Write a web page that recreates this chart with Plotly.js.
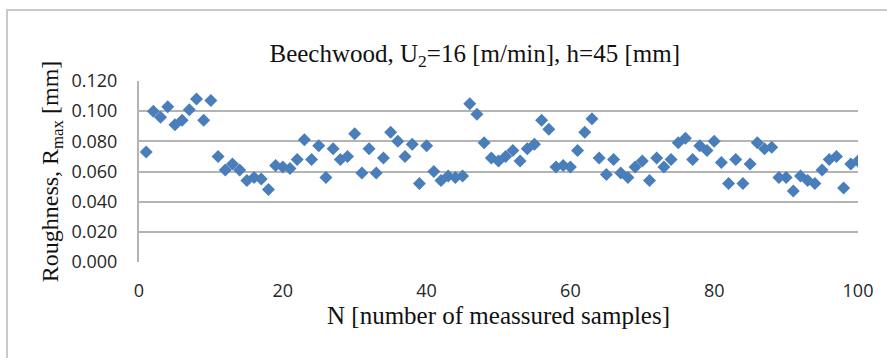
<!DOCTYPE html>
<html>
<head>
<meta charset="utf-8">
<script src="https://cdn.plot.ly/plotly-3.0.1.min.js"></script>
<style>
  html, body { margin: 0; padding: 0; background: #fff; }
  #wrap { position: relative; width: 887px; height: 358px; overflow: hidden; }
  #chart { width: 887px; height: 358px; }
  #frame { position: absolute; left: 6px; top: 9px; width: 1000px; height: 1000px;
           border-top: 2px solid #c9c9c9; border-left: 2px solid #c9c9c9; pointer-events: none; }
</style>
</head>
<body>
<div id="wrap">
  <div id="chart"></div>
  <div id="frame"></div>
</div>
<script>
const chartTitle = 'Beechwood, U<sub>2</sub>=16 [m/min], h=45 [mm]';
const xTitle = 'N [number of meassured samples]';
const yTitle = 'Roughness, R<sub>max</sub> [mm]';

const sampleN = [
  1, 2, 3, 4, 5, 6, 7, 8, 9, 10,
  11, 12, 13, 14, 15, 16, 17, 18, 19, 20,
  21, 22, 23, 24, 25, 26, 27, 28, 29, 30,
  31, 32, 33, 34, 35, 36, 37, 38, 39, 40,
  41, 42, 43, 44, 45, 46, 47, 48, 49, 50,
  51, 52, 53, 54, 55, 56, 57, 58, 59, 60,
  61, 62, 63, 64, 65, 66, 67, 68, 69, 70,
  71, 72, 73, 74, 75, 76, 77, 78, 79, 80,
  81, 82, 83, 84, 85, 86, 87, 88, 89, 90,
  91, 92, 93, 94, 95, 96, 97, 98, 99, 100
];

const roughness = [
  0.073, 0.100, 0.096, 0.103, 0.091, 0.094, 0.101, 0.108, 0.094, 0.107,
  0.070, 0.061, 0.065, 0.061, 0.054, 0.056, 0.055, 0.048, 0.064, 0.063,
  0.062, 0.068, 0.081, 0.068, 0.077, 0.056, 0.075, 0.068, 0.070, 0.085,
  0.059, 0.075, 0.059, 0.069, 0.086, 0.080, 0.070, 0.078, 0.052, 0.077,
  0.060, 0.054, 0.057, 0.056, 0.057, 0.105, 0.098, 0.079, 0.069, 0.067,
  0.070, 0.074, 0.067, 0.075, 0.078, 0.094, 0.088, 0.063, 0.064, 0.063,
  0.074, 0.086, 0.095, 0.069, 0.058, 0.068, 0.059, 0.056, 0.063, 0.067,
  0.054, 0.069, 0.063, 0.068, 0.079, 0.082, 0.068, 0.077, 0.074, 0.080,
  0.066, 0.052, 0.068, 0.052, 0.065, 0.079, 0.075, 0.076, 0.056, 0.056,
  0.047, 0.057, 0.054, 0.052, 0.061, 0.068, 0.070, 0.049, 0.065, 0.067
];

const xTicks = [0, 20, 40, 60, 80, 100];
const yTicks = [0.000, 0.020, 0.040, 0.060, 0.080, 0.100, 0.120];

const serif = '"Liberation Serif", "Times New Roman", serif';
const tickFont = { family: '"Open Sans", "Noto Sans", sans-serif', size: 18, color: '#262626' };

const trace = {
  type: 'scatter',
  mode: 'markers',
  x: sampleN,
  y: roughness,
  marker: { symbol: 'diamond', size: 10, color: '#4a7ebb', line: { width: 0 } },
  hoverinfo: 'x+y'
};

const layout = {
  width: 887,
  height: 358,
  margin: { l: 139, r: 29, t: 81, b: 96 },
  paper_bgcolor: '#ffffff',
  plot_bgcolor: '#ffffff',
  showlegend: false,
  title: {
    text: chartTitle,
    font: { family: serif, size: 25, color: '#111' },
    xref: 'paper', x: 0.467, xanchor: 'center',
    yref: 'container', y: 0.852, yanchor: 'middle'
  },
  xaxis: {
    range: [0, 100],
    tickvals: xTicks,
    ticktext: xTicks.map(String),
    showgrid: false,
    zeroline: false,
    showline: false,
    ticks: '',
    ticklabelstandoff: 16,
    tickfont: tickFont,
    title: { text: xTitle, font: { family: serif, size: 25, color: '#111' }, standoff: 4 },
    fixedrange: true
  },
  yaxis: {
    range: [0, 0.12],
    tickvals: yTicks,
    ticktext: yTicks.map(v => v.toFixed(3)),
    showgrid: true,
    gridcolor: '#b4b4b4',
    gridwidth: 2,
    zeroline: false,
    showline: true,
    linecolor: '#b4b4b4',
    linewidth: 2,
    ticks: '',
    ticklabelstandoff: 16,
    tickfont: tickFont,
    title: { text: yTitle, font: { family: serif, size: 24, color: '#111' }, standoff: 6 },
    fixedrange: true
  }
};

Plotly.newPlot('chart', [trace], layout, { displayModeBar: false, staticPlot: true });
</script>
</body>
</html>
